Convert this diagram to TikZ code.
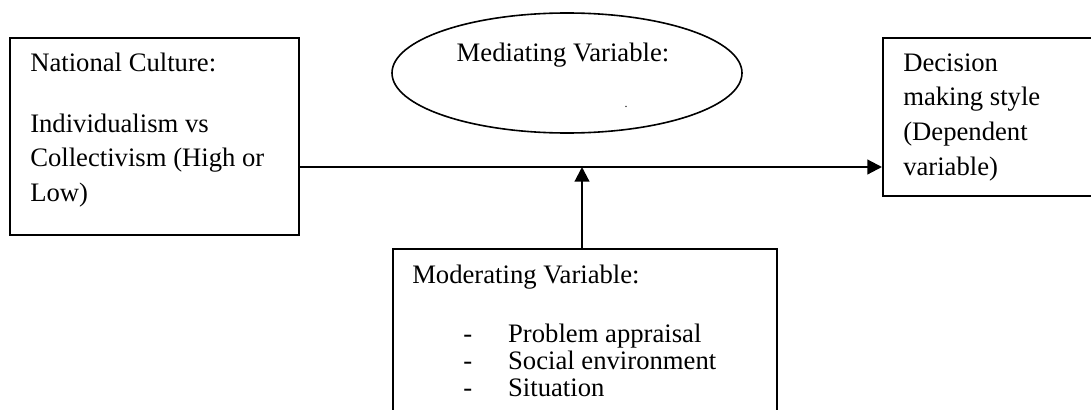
\documentclass[tikz,border=0pt]{standalone}
\usepackage{fontspec}
\setmainfont{Liberation Serif}
\usetikzlibrary{arrows.meta,positioning,shapes.geometric}

\tikzset{
  box/.style={draw, line width=1.2pt, inner sep=0pt, anchor=north west},
  label/.style={anchor=base west, inner sep=0pt,
    font=\fontsize{20}{26}\selectfont},
  link/.style={line width=1.6pt, -{Triangle[length=11pt,width=11pt]}}
}

\begin{document}
\begin{tikzpicture}[x=0.75pt,y=-0.75pt]
    \clip (0,0) rectangle (1091,410);

    % independent variable
    \node[box, minimum width=216.75pt, minimum height=147.75pt] (culture) at (9,37) {};
    \node[label] (culturetext) at (30,72)
        {\begin{tabular}[t]{@{}l@{}}
            National Culture:\\[19pt]
            Individualism vs\\
            Collectivism (High or\\
            Low)
        \end{tabular}};

    % mediating variable
    \node[draw, ellipse, line width=1.2pt, minimum width=262.5pt, minimum height=90pt] (mediator) at (567,73) {};
    \node[label, anchor=base] (mediatortext) at (563,62) {Mediating Variable:};
    \node[label, anchor=base, font=\fontsize{9}{9}\selectfont] (stray) at (626,108) {.};

    % dependent variable
    \node[box, minimum width=187.5pt, minimum height=118.5pt] (outcome) at (882,37) {};
    \node[label] (outcometext) at (903,71)
        {\begin{tabular}[t]{@{}l@{}}
            Decision\\
            making style\\
            (Dependent\\
            variable)
        \end{tabular}};

    % moderating variable
    \node[box, minimum width=288pt, minimum height=150pt] (moderator) at (392,248) {};
    \node[label] (moderatortext) at (412,283) {Moderating Variable:};
    \node[label, font=\fontsize{20}{20.6}\selectfont] (factors) at (463,342)
        {\begin{tabular}[t]{@{}l@{\hspace{27pt}}l@{}}
            - & Problem appraisal\\
            - & Social environment\\
            - & Situation
        \end{tabular}};

    % connectors
    \coordinate (junction) at (582,167);
    \draw[link] (culture.east |- junction) -- (outcome.west |- junction);
    \draw[link] (moderator.north -| junction) -- (junction);
\end{tikzpicture}
\end{document}
